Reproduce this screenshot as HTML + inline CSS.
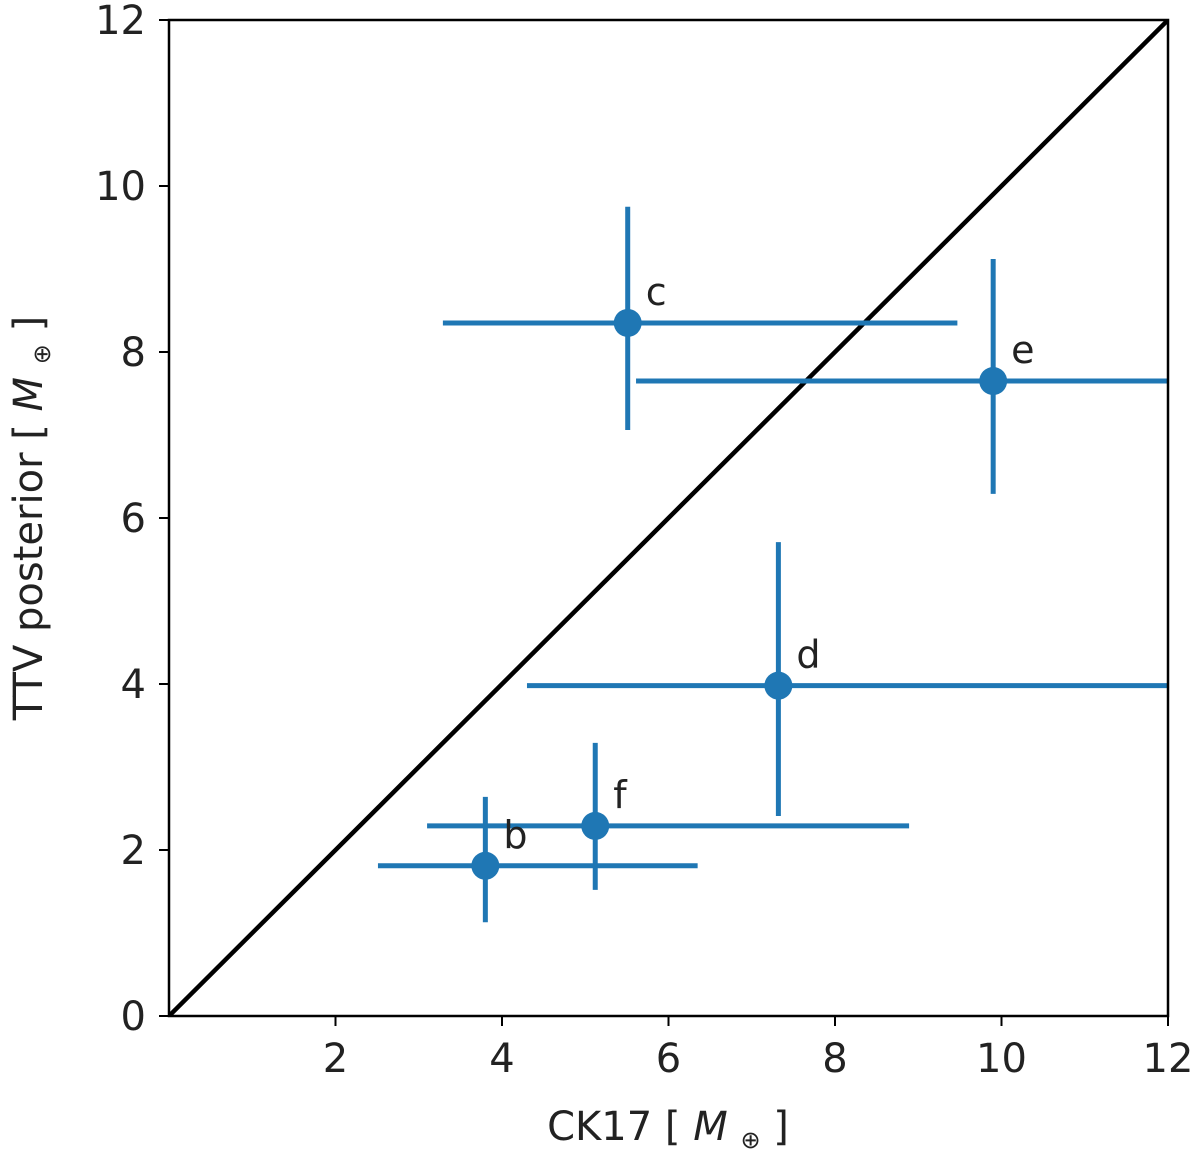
<!DOCTYPE html>
<html><head><meta charset="utf-8"><style>
html,body{margin:0;padding:0;background:#fff;}
svg{display:block;font-family:"DejaVu Sans","Liberation Sans",sans-serif;}
</style></head><body>
<svg id="chart" width="1200" height="1166" viewBox="0 0 1200 1166">
<defs><clipPath id="clip"><rect x="169" y="20" width="999" height="996"/></clipPath></defs>
<g id="marks" clip-path="url(#clip)"></g>
<rect x="169" y="20" width="999" height="996" fill="none" stroke="#000" stroke-width="2.5"/>
<g id="axes"></g>
<text x="668" y="1140" font-size="40" text-anchor="middle" fill="#222">CK17 [ <tspan font-style="italic">M</tspan> <tspan font-size="24" dy="8">⊕</tspan><tspan dy="-8"> ]</tspan></text>
<text transform="translate(42,518) rotate(-90)" font-size="40" text-anchor="middle" fill="#222">TTV posterior [ <tspan font-style="italic">M</tspan> <tspan font-size="24" dy="8">⊕</tspan><tspan dy="-8"> ]</tspan></text>
</svg>
<script>
const labels = ["c","e","d","f","b"];
const xVals = [5.51, 9.90, 7.32, 5.12, 3.80];
const yVals = [8.35, 7.65, 3.98, 2.29, 1.81];
const xLo = [3.29, 5.61, 4.30, 3.10, 2.51];
const xHi = [9.47, 12.6, 12.6, 8.89, 6.35];
const yLo = [7.06, 6.29, 2.41, 1.52, 1.13];
const yHi = [9.75, 9.12, 5.71, 3.29, 2.64];
const xTicks = [2,4,6,8,10,12];
const yTicks = [0,2,4,6,8,10,12];
const NS="http://www.w3.org/2000/svg";
const X=v=>169+v*999/12, Y=v=>1016-v*996/12;
function mk(t,a,p){const e=document.createElementNS(NS,t);for(const k in a)e.setAttribute(k,a[k]);p.appendChild(e);return e;}
const marks=document.getElementById('marks'), axes=document.getElementById('axes');
const diag=mk('line',{x1:X(0),y1:Y(0),x2:X(12),y2:Y(12),stroke:'#000','stroke-width':4.5},marks);


labels.forEach((l,i)=>{
  const g=mk('g',{},marks);
  
  
  mk('line',{x1:X(xLo[i]),x2:X(xHi[i]),y1:Y(yVals[i]),y2:Y(yVals[i]),stroke:'#1f77b4','stroke-width':5},g);
  mk('line',{x1:X(xVals[i]),x2:X(xVals[i]),y1:Y(yLo[i]),y2:Y(yHi[i]),stroke:'#1f77b4','stroke-width':5},g);
  mk('circle',{cx:X(xVals[i]),cy:Y(yVals[i]),r:14,fill:'#1f77b4'},g);
});
labels.forEach((l,i)=>{
  const t=mk('text',{x:X(xVals[i])+18,y:Y(yVals[i])-18,'font-size':38,fill:'#222'},axes);
  t.textContent=l;
  
  
});
xTicks.forEach(v=>{
  mk('line',{x1:X(v),x2:X(v),y1:1016,y2:1026,stroke:'#000','stroke-width':2},axes);
  const t=mk('text',{x:X(v),y:1072,'font-size':40,'text-anchor':'middle',fill:'#222'},axes);
  t.textContent=v;
  
  
});
yTicks.forEach(v=>{
  mk('line',{x1:159,x2:169,y1:Y(v),y2:Y(v),stroke:'#000','stroke-width':2},axes);
  const t=mk('text',{x:146,y:Y(v)+14,'font-size':40,'text-anchor':'end',fill:'#222'},axes);
  t.textContent=v;
  
  
});
</script>
</body></html>
